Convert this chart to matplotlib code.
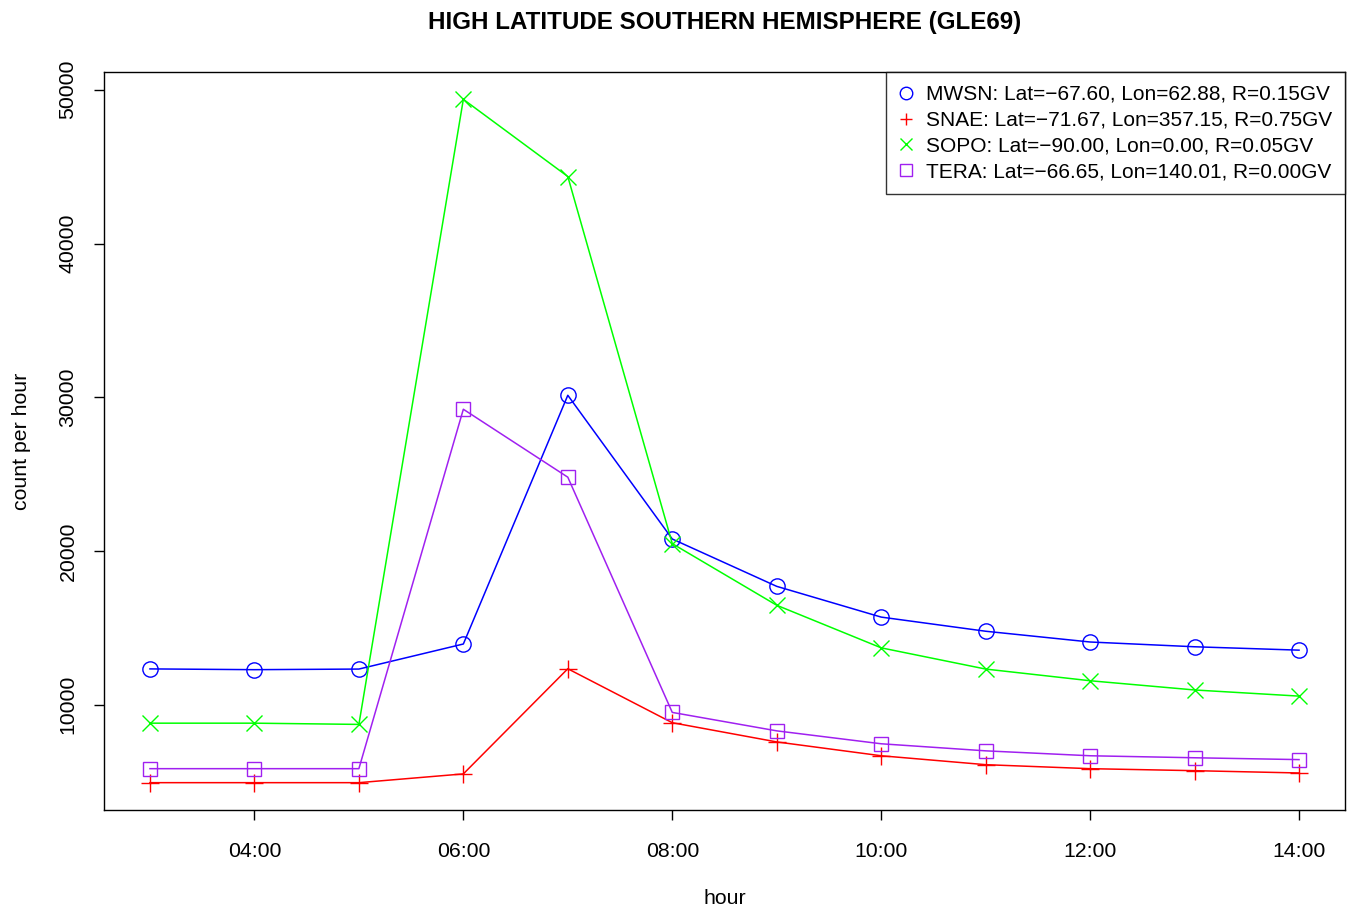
import matplotlib
matplotlib.use("Agg")
import matplotlib.pyplot as plt
import matplotlib.ticker as mticker

plt.rcParams['font.family'] = ['Liberation Sans', 'DejaVu Sans']

hours = [3, 4, 5, 6, 7, 8, 9, 10, 11, 12, 13, 14]
tick_hours = [4, 6, 8, 10, 12, 14]
tick_labels = ["04:00", "06:00", "08:00", "10:00", "12:00", "14:00"]

mwsn = [12330, 12280, 12320, 13950, 30130, 20780, 17700, 15700, 14780, 14080, 13770, 13550]
snae = [4930, 4930, 4930, 5500, 12340, 8830, 7580, 6680, 6100, 5840, 5710, 5560]
sopo = [8800, 8800, 8720, 49380, 44360, 20480, 16470, 13700, 12320, 11560, 10960, 10560]
tera = [5840, 5840, 5840, 29220, 24800, 9500, 8300, 7460, 7000, 6680, 6550, 6430]

labels = [
    "MWSN: Lat=\u221267.60, Lon=62.88, R=0.15GV",
    "SNAE: Lat=\u221271.67, Lon=357.15, R=0.75GV",
    "SOPO: Lat=\u221290.00, Lon=0.00, R=0.05GV",
    "TERA: Lat=\u221266.65, Lon=140.01, R=0.00GV",
]
series = [mwsn, snae, sopo, tera]
colors = ["#0000FF", "#FF0000", "#00FF00", "#A020F0"]
markers = ["o", "+", "x", "s"]
msizes = [11, 13, 11, 10.5]
fs = 15.3

fig = plt.figure(figsize=(13.48, 9.08), dpi=100)
ax = fig.add_axes([104/1348, 1 - 810/908, (1345-104)/1348, (810-72)/908])

for s, c, m, ms, lab in zip(series, colors, markers, msizes, labels):
    ax.plot(hours, s, color=c, lw=1.1, marker=m, markersize=ms,
            markerfacecolor='none', markeredgecolor=c, markeredgewidth=1.0, label=lab)

xmin, xmax = min(hours), max(hours)
xr = xmax - xmin
ax.set_xlim(xmin - 0.04*xr, xmax + 0.04*xr)
allv = mwsn + snae + sopo + tera
ymin, ymax = min(allv), max(allv)
yr = ymax - ymin
ax.set_ylim(ymin - 0.04*yr, ymax + 0.04*yr)

ax.set_xticks(tick_hours)
ax.set_xticklabels(tick_labels)
ax.yaxis.set_major_locator(mticker.MultipleLocator(10000))
ax.tick_params(axis='both', labelsize=fs, length=7, width=1, direction='out')
ax.tick_params(axis='x', pad=16)
ax.tick_params(axis='y', pad=12)
plt.setp(ax.get_yticklabels(), rotation=90, va='center')
for sp in ax.spines.values():
    sp.set_linewidth(1.0)
    sp.set_color('black')

ax.set_xlabel("hour", fontsize=fs, labelpad=20)
ax.set_ylabel("count per hour", fontsize=fs, labelpad=20)
ax_center = (104 + 1345) / 2 / 1348
fig.text(ax_center, 1 - 22/908, "HIGH LATITUDE SOUTHERN HEMISPHERE (GLE69)",
         fontsize=17.4, fontweight='bold', ha='center', va='center')

leg = ax.legend(loc='upper right', fontsize=15.0, frameon=True, fancybox=False,
                edgecolor='black', borderaxespad=0, handlelength=0.7, handletextpad=0.6,
                labelspacing=0.33, borderpad=0.62)
leg.get_frame().set_linewidth(1.0)
for h in leg.legend_handles:
    h.set_linestyle('none')
    h.set_markersize(9)

fig.savefig("out.png", dpi=100)
